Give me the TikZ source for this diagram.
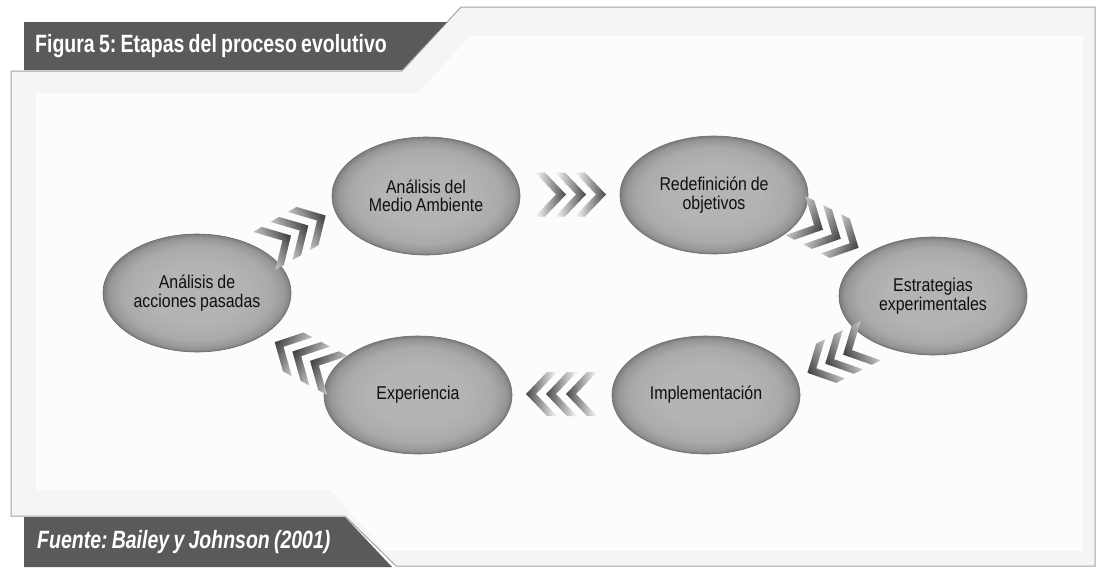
\documentclass[tikz,border=0pt]{standalone}
\usepackage{fontspec}
\setmainfont{Liberation Sans}
\newfontfamily\labelfont[FakeStretch=0.86,WordSpace=0.85]{Liberation Sans}
\newfontfamily\headfont[FakeStretch=0.78,WordSpace=0.78]{Liberation Sans}
\usetikzlibrary{shapes.geometric,calc}
\frenchspacing

\definecolor{barcolor}{RGB}{90,90,90}
\definecolor{panelfill}{RGB}{245,245,245}
\definecolor{panelinner}{RGB}{252,252,252}
\definecolor{panelline}{RGB}{165,165,165}
\definecolor{ovalmid}{RGB}{180,180,180}
\definecolor{ovalring}{RGB}{170,170,170}
\definecolor{ovaledge}{RGB}{150,150,150}
\definecolor{ovalrim}{RGB}{125,125,125}
\definecolor{ovalline}{RGB}{105,105,105}
\definecolor{textdark}{RGB}{15,15,15}
\definecolor{chevlight}{RGB}{250,250,250}
\definecolor{chevdark}{RGB}{72,72,72}

% soft radial fill of the stage ovals
\pgfdeclareradialshading{ovalshade}{\pgfpoint{0bp}{0bp}}{%
  color(0bp)=(ovalmid); color(12bp)=(ovalmid); color(20bp)=(ovalring);
  color(23.5bp)=(ovaledge); color(25bp)=(ovalrim); color(50bp)=(ovalrim)}

\tikzset{
  stage/.style={ellipse, minimum width=188pt, minimum height=118pt, inner sep=0pt,
    shade, shading=ovalshade, draw=ovalline, line width=0.6pt, align=center,
    text=textdark, font=\labelfont\fontsize{18.5}{18.5}\selectfont},
  headtext/.style={text=white, anchor=base west, inner sep=0pt,
    font=\headfont\bfseries\fontsize{25}{27}\selectfont},
  % three faded chevrons pointing along the given angle
  pics/chevrons/.style={code={
    \pgfmathsetmacro\chevshade{#1+90}
    \begin{scope}[rotate=#1]
      \foreach \o in {-35,-15,5}{
        \path[top color=chevlight, bottom color=chevdark, shading angle=\chevshade]
          (\o,-22) -- (\o+10,-22) -- (\o+31,0) -- (\o+10,22) -- (\o,22) -- (\o+21,0) -- cycle;
      }
    \end{scope}
  }}
}

\begin{document}
\begin{tikzpicture}[x=1pt,y=-1pt]
\useasboundingbox (0,0) rectangle (1102,571);

% panel with notched corners
\path[fill=panelfill, draw=panelline, line width=1pt]
  (11,71) -- (402,71) -- (461,7) -- (1095,7) -- (1095,566) -- (396,566)
  -- (345,516) -- (11,516) -- cycle;
\fill[panelinner] (36,93) -- (418,93) -- (470,36) -- (1083,36) -- (1083,551)
  -- (385,551) -- (330,490) -- (36,490) -- cycle;

% heading and source bars
\fill[barcolor] (24,22) -- (447,22) -- (402,70) -- (24,70) -- cycle;
\node[headtext] (title) at (35,52) {Figura 5: Etapas del proceso evolutivo};
\fill[barcolor] (24,517) -- (345,517) -- (392,567) -- (24,567) -- cycle;
\node[headtext, font=\headfont\bfseries\itshape\fontsize{25}{27}\selectfont] (source) at (37,548) {Fuente: Bailey y Johnson (2001)};

% stages of the cycle
\node[stage] (n1) at (197,293) {Análisis de\\acciones pasadas};
\node[stage] (n2) at (426,196) {Análisis del\\Medio Ambiente};
\node[stage] (n3) at (714,195) {Redefinición de\\objetivos};
\node[stage] (n4) at (933,296) {Estrategias\\experimentales};
\node[stage] (n5) at (706,395) {Implementación};
\node[stage] (n6) at (418,395) {Experiencia};

% chevron links between consecutive stages
\pic at ($(n1)!.5!(n2)+(-17,-11)$) {chevrons=30};
\pic at ($(n2)!.5!(n3)+(0,-1)$) {chevrons=0};
\pic at ($(n3)!.5!(n4)+(3,-14)$) {chevrons=-27};
\pic at ($(n4)!.5!(n5)+(20,11)$) {chevrons=207};
\pic at ($(n5)!.5!(n6)+(0,-1)$) {chevrons=180};
\pic at ($(n6)!.5!(n1)+(-1,15)$) {chevrons=152};
\end{tikzpicture}
\end{document}
